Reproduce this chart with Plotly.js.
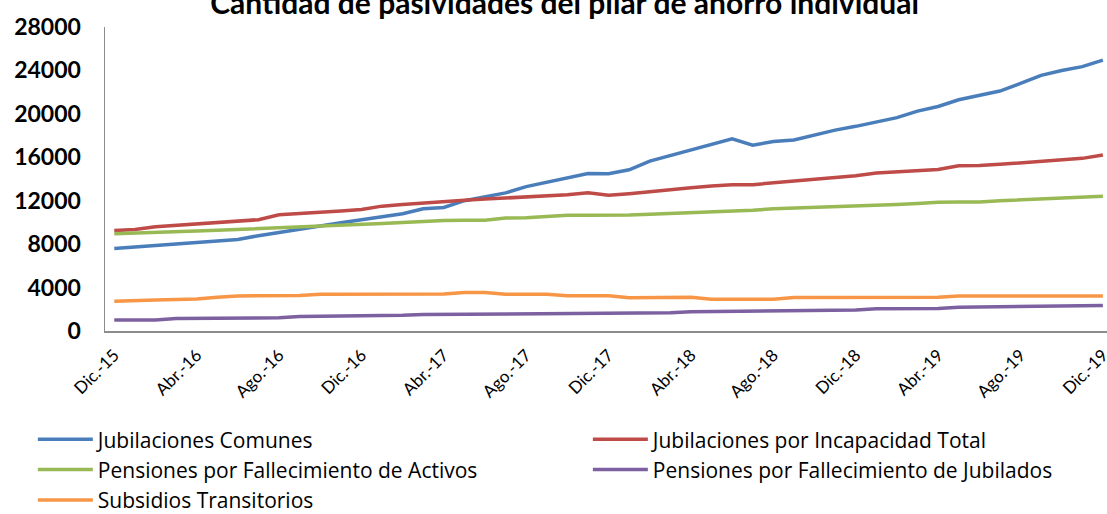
<!DOCTYPE html>
<html>
<head>
<meta charset="utf-8">
<script src="https://cdn.plot.ly/plotly-3.0.1.min.js"></script>
<style>html,body{margin:0;padding:0;background:#fff;}#chart{width:1107px;height:514px;}</style>
</head>
<body>
<div id="chart"></div>
<script>
var months = ["Dic.-15","Ene.-16","Feb.-16","Mar.-16","Abr.-16","May.-16","Jun.-16","Jul.-16","Ago.-16","Sep.-16","Oct.-16","Nov.-16",
"Dic.-16","Ene.-17","Feb.-17","Mar.-17","Abr.-17","May.-17","Jun.-17","Jul.-17","Ago.-17","Sep.-17","Oct.-17","Nov.-17",
"Dic.-17","Ene.-18","Feb.-18","Mar.-18","Abr.-18","May.-18","Jun.-18","Jul.-18","Ago.-18","Sep.-18","Oct.-18","Nov.-18",
"Dic.-18","Ene.-19","Feb.-19","Mar.-19","Abr.-19","May.-19","Jun.-19","Jul.-19","Ago.-19","Sep.-19","Oct.-19","Nov.-19","Dic.-19"];
var tickLabels = ["Dic.-15","Abr.-16","Ago.-16","Dic.-16","Abr.-17","Ago.-17","Dic.-17","Abr.-18","Ago.-18","Dic.-18","Abr.-19","Ago.-19","Dic.-19"];

var jubilacionesComunes = [7590,7720,7850,7980,8100,8250,8430,8780,9100,9380,9680,9970,
10250,10550,10800,11250,11380,12000,12400,12720,13300,13700,14100,14500,
14480,14850,15650,16150,16700,17170,17700,17120,17450,17600,18050,18500,
18850,19250,19650,20250,20680,21300,21700,22100,22800,23550,24000,24350,24950];
var jubilacionesIncapacidad = [9250,9350,9600,9720,9850,9980,10100,10250,10700,10800,10900,11050,
11200,11500,11650,11800,11900,12050,12150,12250,12350,12430,12550,12730,
12500,12650,12850,13050,13200,13350,13480,13480,13650,13820,13950,14100,
14300,14550,14680,14780,14870,15220,15240,15350,15500,15620,15750,15900,16220];
var pensionesActivos = [8950,9000,9080,9150,9200,9280,9350,9430,9500,9580,9650,9750,
9820,9900,10000,10100,10180,10190,10200,10400,10420,10550,10650,10650,
10650,10680,10760,10820,10880,10950,11000,11120,11260,11320,11380,11420,
11560,11580,11650,11750,11870,11880,11880,12000,12100,12200,12260,12320,12420];
var pensionesJubilados = [1010,1010,1020,1150,1170,1180,1190,1200,1210,1330,1340,1350,
1360,1380,1450,1520,1530,1540,1540,1550,1550,1560,1640,1650,
1660,1660,1670,1680,1780,1800,1810,1820,1830,1900,1920,1930,
1940,2050,2060,2070,2080,2180,2200,2210,2230,2320,2340,2350,2360];
var subsidiosTransitorios = [2750,2760,2850,2900,2950,3100,3230,3240,3250,3280,3380,3390,
3390,3390,3390,3390,3400,3550,3550,3380,3380,3380,3250,3230,
3240,3070,3060,3080,3100,2920,2900,2900,2920,3080,3090,3100,
3100,3100,3100,3100,3110,3230,3230,3230,3230,3230,3230,3230,3230];

var seriesNames = ["Jubilaciones Comunes","Jubilaciones por Incapacidad Total","Pensiones por Fallecimiento de Activos","Pensiones por Fallecimiento de Jubilados","Subsidios Transitorios"];
var seriesValues = [jubilacionesComunes, jubilacionesIncapacidad, pensionesActivos, pensionesJubilados, subsidiosTransitorios];
var colors = ["#4A7EBB","#BE4B48","#98B954","#7D60A0","#F79646"];

var traces = seriesValues.map(function(v,i){
  return {x: months, y: v, type: "scatter", mode: "lines", name: seriesNames[i],
    line: {color: colors[i], width: 3.5}};
});

var font = "Lato, 'Open Sans', sans-serif";
var layout = {
  width: 1107, height: 514,
  margin: {l: 105, r: 0, t: 27, b: 183, autoexpand: false},
  paper_bgcolor: "#fff", plot_bgcolor: "#fff",
  showlegend: true,
  title: {text: "<b>Cantidad de pasividades del pilar de ahorro individual</b>",
    font: {family: font, size: 30, color: "#000"}, x: 0.51, xanchor: "center", y: 0.994, yanchor: "middle", yref: "container"},
  xaxis: {type: "category", range: [-0.45, 48.2], tickmode: "array",
    tickvals: tickLabels, ticktext: tickLabels, tickangle: -45, ticklabelstandoff: 6,
    showline: true, linecolor: "#8C8C8C", linewidth: 1.5, showgrid: false, zeroline: false,
    ticks: "", tickfont: {family: font, size: 17, color: "#000"}, fixedrange: true, automargin: false},
  yaxis: {range: [0, 28000], dtick: 4000, tick0: 0, tickformat: "d", showline: true, linecolor: "#8C8C8C", linewidth: 1.5,
    showgrid: false, zeroline: false, ticks: "", ticklabelstandoff: 18,
    tickfont: {family: font, size: 23, color: "#000", weight: "bold"}, fixedrange: true, automargin: false},
  legend: {orientation: "h", x: -0.072, xanchor: "left", y: -0.29, yanchor: "top", yref: "paper",
    entrywidth: 485, entrywidthmode: "pixels", itemwidth: 55, traceorder: "normal",
    font: {family: "'Open Sans', Lato, sans-serif", size: 21, color: "#000"}, bgcolor: "rgba(0,0,0,0)"}
};
Plotly.newPlot("chart", traces, layout, {displayModeBar: false, staticPlot: true});
</script>
</body>
</html>
